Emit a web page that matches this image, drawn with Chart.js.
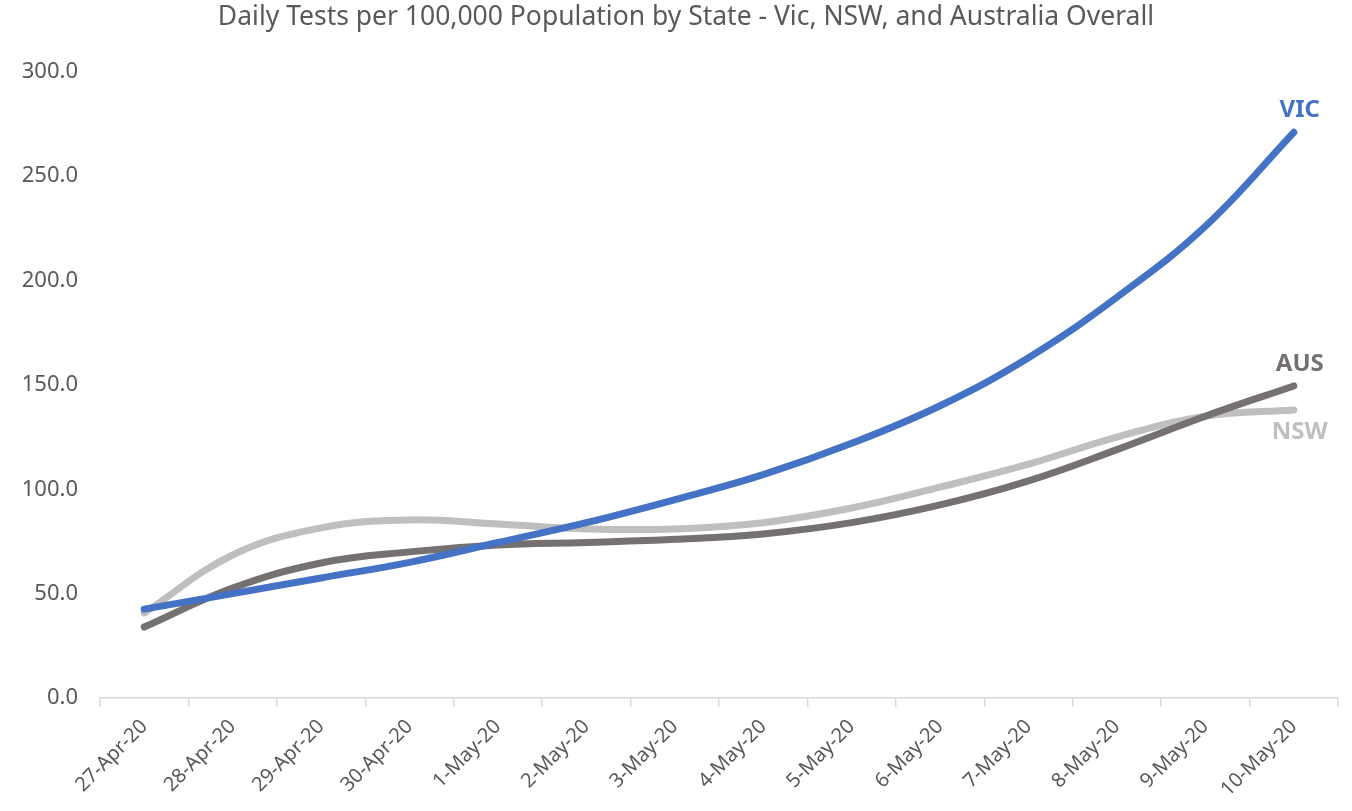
<!DOCTYPE html>
<html><head><meta charset="utf-8">
<script src="https://cdn.jsdelivr.net/npm/chart.js@4"></script>
<style>html,body{margin:0;padding:0;background:#fff}#wrap{width:1352px;height:811px}</style>
</head><body><div id="wrap"><canvas id="c"></canvas></div>
<script>
const categories = ['27-Apr-20','28-Apr-20','29-Apr-20','30-Apr-20','1-May-20','2-May-20','3-May-20','4-May-20','5-May-20','6-May-20','7-May-20','8-May-20','9-May-20','10-May-20'];
const vic = [42.6, 50, 57.5, 65, 74.5, 84, 95, 107, 122, 140, 163, 192, 226, 271];
const nsw = [40.7, 68.5, 81.5, 85.3, 83.4, 81, 81, 84, 91, 101, 112, 125, 135, 138];
const aus = [34, 52.7, 64.7, 70, 73.3, 74.5, 76, 78.6, 84, 92.5, 104, 119, 135, 149.5];
const seriesNames = ['VIC', 'AUS', 'NSW'];
const yTicks = [0, 50, 100, 150, 200, 250, 300];

const FONT = '"Noto Sans", sans-serif';
const endLabels = {
  id: 'endLabels',
  afterLayout(chart) {
    if (chart.titleBlock) chart.titleBlock.left = 34;
  },
  afterDatasetsDraw(chart) {
    const ctx = chart.ctx;
    chart.data.datasets.forEach((ds, i) => {
      const meta = chart.getDatasetMeta(i);
      const pt = meta.data[meta.data.length - 1];
      ctx.save();
      ctx.font = 'bold 24px ' + FONT;
      ctx.fillStyle = ds.labelColor;
      ctx.textAlign = 'center';
      ctx.textBaseline = 'middle';
      ctx.fillText(ds.label, pt.x + 6, pt.y + ds.labelDy);
      ctx.restore();
    });
  }
};

new Chart(document.getElementById('c'), {
  type: 'line',
  data: {
    labels: categories,
    datasets: [
      {label: seriesNames[1], data: aus, borderColor: '#767171', labelColor: '#767171', labelDy: -22, order: 2},
      {label: seriesNames[2], data: nsw, borderColor: '#BFBFBF', labelColor: '#BFBFBF', labelDy: 22, order: 3},
      {label: seriesNames[0], data: vic, borderColor: '#4472C4', labelColor: '#4472C4', labelDy: -22, order: 1}
    ].map(d => Object.assign({borderWidth: 7, pointRadius: 0, tension: 0.4, fill: false, borderCapStyle: 'round'}, d))
  },
  options: {
    responsive: true, maintainAspectRatio: false, animation: false,
    layout: {padding: {left: 0, right: 14, top: 0, bottom: 0}},
    plugins: {
      legend: {display: false}, tooltip: {enabled: false},
      title: {display: true, text: 'Daily Tests per 100,000 Population by State - Vic, NSW, and Australia Overall',
        color: '#595959', font: {family: FONT, size: 26.5, weight: 'normal', lineHeight: 1.2}, padding: {top: 2, bottom: 38}}
    },
    scales: {
      x: {
        offset: true,
        afterFit: s => { s.height = 113; },
        grid: {offset: true, drawOnChartArea: false, drawTicks: true, tickLength: 9, color: '#D9D9D9', lineWidth: 1.5},
        border: {color: '#D9D9D9', width: 1.5},
        ticks: {autoSkip: false, minRotation: 45, maxRotation: 45, color: '#595959', font: {family: FONT, size: 20}, padding: 8}
      },
      y: {
        min: 0, max: 300,
        afterBuildTicks: s => { s.ticks = yTicks.map(v => ({value: v})); },
        afterFit: s => { s.width = 100; },
        grid: {display: false},
        border: {display: false},
        ticks: {color: '#595959', font: {family: FONT, size: 22}, padding: 14, callback: v => Number(v).toFixed(1)}
      }
    }
  },
  plugins: [endLabels]
});
</script></body></html>
